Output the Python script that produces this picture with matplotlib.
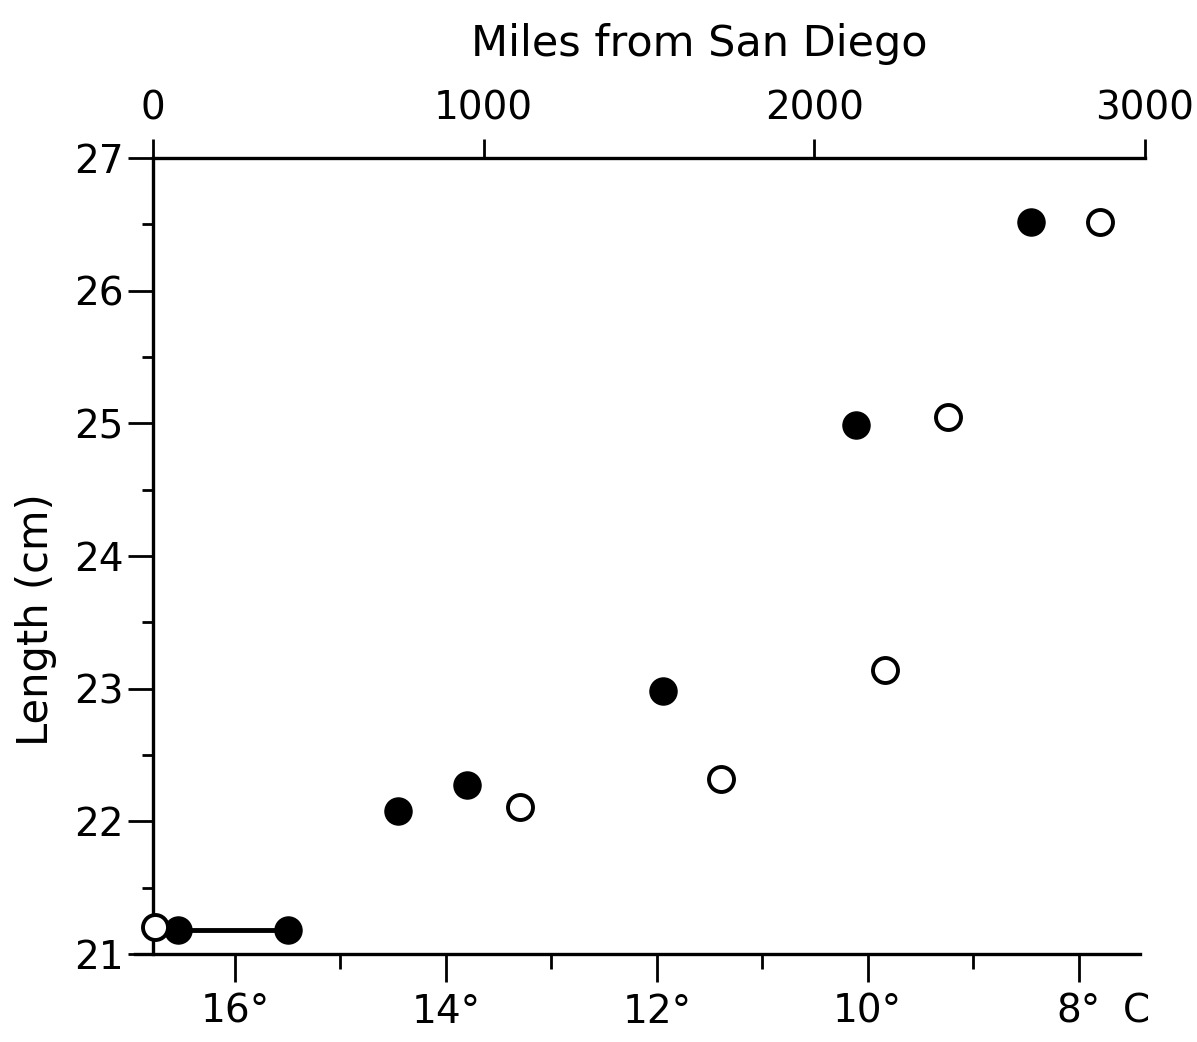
import numpy as np
import matplotlib.pyplot as plt

plt.rcParams['font.family'] = ['DejaVu Sans']

# filled circles: length vs temperature
filled_temp = [16.54, 15.50, 14.45, 13.80, 11.94, 10.11, 8.45]
filled_len = [21.18, 21.18, 22.08, 22.27, 22.98, 24.99, 26.52]
# open circles
open_temp = [16.76, 13.30, 11.39, 9.84, 9.24, 7.80]
open_len = [21.20, 22.11, 22.32, 23.14, 25.05, 26.52]
# range bar joining the two warmest filled points
range_temp = [16.54, 15.50]
range_len = [21.18, 21.18]

temp_major = [16, 14, 12, 10, 8]
temp_minor = [15, 13, 11, 9]
temp_labels = ['16°', '14°', '12°', '10°', '8°']
mile_ticks = [0, 1000, 2000, 3000]
len_major = [21, 22, 23, 24, 25, 26, 27]
len_minor = [21.5, 22.5, 23.5, 24.5, 25.5, 26.5]


# linear relation between the two x scales
def t2m(t):
    return 248 + (16 - np.asarray(t)) * 319.0


def m2t(m):
    return 16 - (np.asarray(m) - 248) / 319.0


fig = plt.figure(figsize=(11.97, 10.42), dpi=100)
ax = fig.add_axes([0.1128, 0.0845, 0.8438, 0.764])

fs = 28
lw = 2.4

ax.plot(range_temp, range_len, color='black', lw=3.5, zorder=2)
ax.plot(filled_temp, filled_len, 'o', color='black', ms=19.5, zorder=3)
ax.plot(open_temp, open_len, 'o', mfc='white', mec='black', mew=2.8, ms=18, zorder=3)

ax.set_xlim(16.948, 7.37)
ax.set_ylim(21, 27)

ax.spines['right'].set_visible(False)
ax.spines['top'].set_visible(False)
ax.spines['left'].set_position(('data', 16.777))
ax.spines['bottom'].set_bounds(16.948, 7.42)
for s in ('left', 'bottom'):
    ax.spines[s].set_linewidth(lw)

ax.set_xticks(temp_major)
ax.set_xticklabels(temp_labels)
ax.set_xticks(temp_minor, minor=True)
ax.set_yticks(len_major)
ax.set_yticks(len_minor, minor=True)

ax.tick_params(axis='x', which='major', direction='out', length=20, width=2, pad=8, labelsize=fs)
ax.tick_params(axis='x', which='minor', direction='out', length=11, width=2)
ax.tick_params(axis='y', which='major', direction='out', length=18, width=2, pad=3, labelsize=fs)
ax.tick_params(axis='y', which='minor', direction='out', length=8, width=2)

ax.annotate('C', xy=(7.45, 0), xycoords=ax.get_xaxis_transform(),
            xytext=(0, -28), textcoords='offset points',
            ha='center', va='top', fontsize=fs)

ax.set_ylabel('Length (cm)', fontsize=30)
ax.yaxis.set_label_coords(-0.077, 0.42)

sec = ax.secondary_xaxis('top', functions=(t2m, m2t))
sec.set_xticks(mile_ticks)
sec.tick_params(direction='out', length=14, width=2, pad=8, labelsize=fs)
sec.spines['top'].set_linewidth(lw)
sec.spines['top'].set_bounds(0, 3000)

ax.text(0.559, 1.117, 'Miles from San Diego', transform=ax.transAxes,
        ha='center', va='bottom', fontsize=31)

fig.savefig('out.png', dpi=100)
